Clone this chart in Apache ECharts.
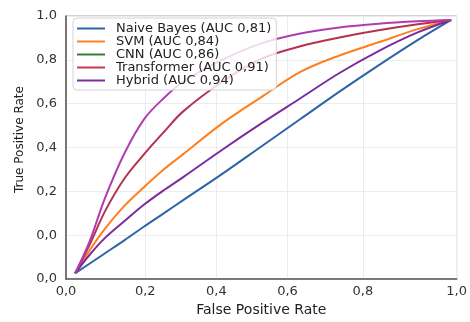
<!DOCTYPE html>
<html>
<head>
<meta charset="utf-8">
<script src="https://cdn.jsdelivr.net/npm/echarts@6/dist/echarts.min.js"></script>
<style>
html,body{margin:0;padding:0;background:#fff;}
#chart{width:470px;height:322px;}
</style>
</head>
<body>
<div id="chart"></div>
<script>
// ---- data ----
const fpr = [0.023, 0.06, 0.1, 0.15, 0.2, 0.25, 0.3, 0.4, 0.5, 0.6, 0.7, 0.8, 0.9, 0.986];
const tprNaiveBayes   = [-0.174, -0.13, -0.082, -0.022, 0.04, 0.10, 0.16, 0.28, 0.405, 0.53, 0.655, 0.775, 0.89, 0.982];
const tprSVM          = [-0.174, -0.07, 0.03, 0.135, 0.22, 0.30, 0.37, 0.51, 0.63, 0.745, 0.82, 0.88, 0.94, 0.982];
const tprCNN          = [-0.174, -0.03, 0.17, 0.375, 0.53, 0.625, 0.70, 0.80, 0.875, 0.92, 0.948, 0.965, 0.976, 0.982];
const tprTransformer  = [-0.174, -0.045, 0.11, 0.26, 0.37, 0.47, 0.565, 0.70, 0.805, 0.862, 0.902, 0.935, 0.962, 0.982];
const tprHybrid       = [-0.174, -0.09, -0.012, 0.065, 0.14, 0.205, 0.265, 0.39, 0.51, 0.625, 0.74, 0.84, 0.925, 0.982];

const seriesNames = ['Naive Bayes (AUC 0,81)', 'SVM (AUC 0,84)', 'CNN (AUC 0,86)', 'Transformer (AUC 0,91)', 'Hybrid (AUC 0,94)'];
const xTickValues = [0, 0.203, 0.385, 0.567, 0.76, 1.0];
const xTickLabels = ['0,0', '0,2', '0,4', '0,6', '0,8', '1,0'];
const yTickLabels = ['0,0', '0,0', '0,2', '0,4', '0,6', '0,8', '1.0'];
const yMin = -0.2, yMax = 1.0, yStep = 0.2;

// ---- styling ----
const lineColors   = ['#2c64a6', '#ff7f1c', '#b03cb2', '#b6304f', '#7a2c9e'];
const legendColors = ['#2c64a6', '#ff7f1c', '#3a7a3a', '#c8385e', '#7a2c9e'];
const FONT = 'DejaVu Sans';

const tprs = [tprNaiveBayes, tprSVM, tprCNN, tprTransformer, tprHybrid];
const drawOrder = [0, 1, 4, 3, 2]; // later = drawn on top

const series = drawOrder.map((i) => ({
  name: seriesNames[i],
  type: 'line',
  data: fpr.map((x, k) => [x, tprs[i][k]]),
  smooth: 0.35,
  symbol: 'none',
  z: 2,
  lineStyle: { color: lineColors[i], width: 2 },
  itemStyle: { color: lineColors[i] }
}));

const chart = echarts.init(document.getElementById('chart'), null, { renderer: 'canvas' });
chart.setOption({
  animation: false,
  backgroundColor: '#ffffff',
  textStyle: { fontFamily: FONT },
  grid: { left: 66, right: 13, top: 16, bottom: 33, show: true, borderColor: '#a8a8a8', borderWidth: 1, containLabel: false },
  legend: {
    orient: 'vertical',
    left: 73, top: 18, z: 10,
    padding: [4, 5, 3, 3],
    itemWidth: 28, itemHeight: 14, itemGap: 0,
    backgroundColor: 'rgba(255,255,255,0.8)',
    borderColor: '#d4d4d4', borderWidth: 1, borderRadius: 4,
    formatter: function (name) { return '{g|}' + name; },
    textStyle: { fontFamily: FONT, fontSize: 13, color: '#222',
      rich: { g: { width: 6, fontSize: 13 } } },
    data: seriesNames.map((n, i) => ({
      name: n,
      itemStyle: { color: 'rgba(0,0,0,0)', borderWidth: 0, borderColor: 'rgba(0,0,0,0)' },
      lineStyle: { color: legendColors[i], width: 2 }
    }))
  },
  xAxis: {
    type: 'value', min: 0, max: 1,
    name: 'False Positive Rate', nameLocation: 'middle', nameGap: 19,
    nameTextStyle: { fontFamily: FONT, fontSize: 14, color: '#222' },
    axisLine: { show: true, onZero: false, lineStyle: { color: '#555', width: 1.5 } },
    axisTick: { show: false, customValues: xTickValues },
    axisLabel: { customValues: xTickValues, margin: 6, fontSize: 13, color: '#333', fontFamily: FONT,
      formatter: function (v) { const i = xTickValues.indexOf(v); return i >= 0 ? xTickLabels[i] : ''; } },
    splitLine: { show: true, lineStyle: { color: '#ececec', width: 1 } }
  },
  yAxis: {
    type: 'value', min: yMin, max: yMax, interval: yStep,
    name: 'True Positive Rate', nameLocation: 'middle', nameGap: 38,
    nameTextStyle: { fontFamily: FONT, fontSize: 12, color: '#222', padding: [0, 0, 0, 16] },
    axisLine: { show: true, onZero: false, lineStyle: { color: '#555', width: 1.5 } },
    axisTick: { show: false },
    axisLabel: { margin: 9, fontSize: 13, color: '#333', fontFamily: FONT,
      formatter: function (v) { const i = Math.round((v - yMin) / yStep); return yTickLabels[i] || ''; } },
    splitLine: { show: true, lineStyle: { color: '#ececec', width: 1 } }
  },
  series: series
});
</script>
</body>
</html>
